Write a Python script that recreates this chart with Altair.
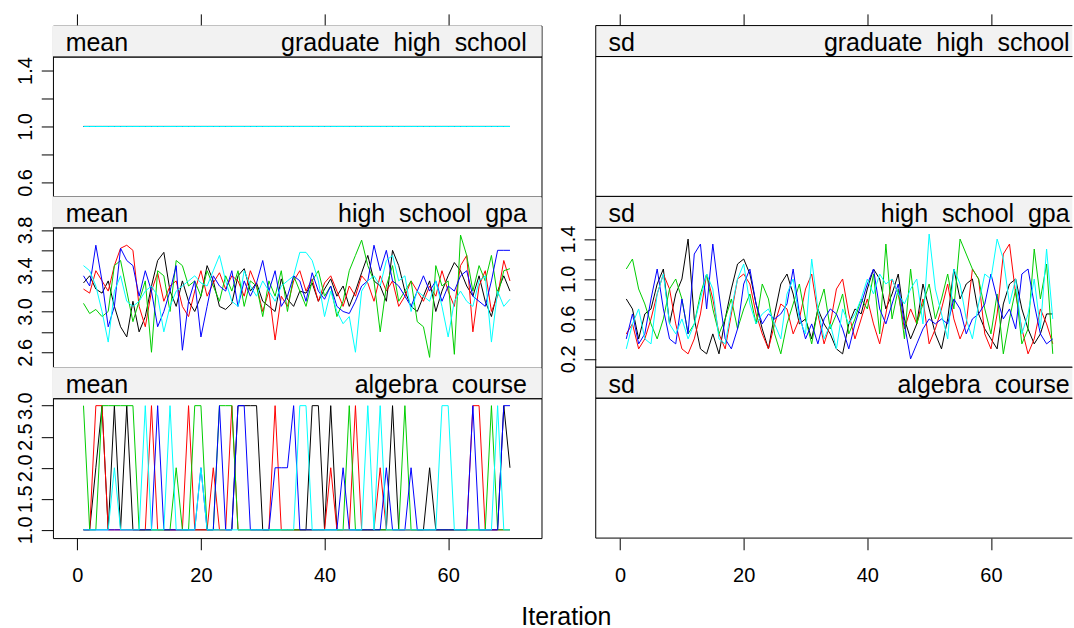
import altair as alt
import pandas as pd

FONT = "Liberation Sans"
ITERATIONS = list(range(1, 71))
CHAINS = [1, 2, 3, 4, 5]
CHAIN_COLORS = ["#000000", "#FF0000", "#00CD00", "#0000FF", "#00FFFF"]

STATS = ["mean", "sd"]
VARIABLES = ["graduate high school", "high school gpa", "algebra course"]
X_TITLE = "Iteration"

# graduate high school: the imputed mean never moves off 1.0 in any chain
GRAD_MEAN_LEVEL = [1.0, 1.0, 1.0, 1.0, 1.0]

# high school gpa, mean of imputed values per chain
GPA_MEAN = [
    [3.28, 3.35, 3.22, 3.18, 3.30, 3.05, 2.85, 2.75, 3.10, 2.80,
     2.95, 3.25, 3.50, 3.58, 3.20, 3.05, 3.30, 3.10, 3.00, 3.15,
     3.45, 3.30, 3.05, 3.02, 3.08, 3.35, 3.42, 3.20, 3.28, 3.10,
     3.05, 3.00, 3.32, 3.12, 3.05, 3.20, 3.18, 3.28, 3.10, 3.22,
     3.32, 3.15, 3.25, 3.05, 3.20, 3.38, 3.55, 3.30, 3.25, 3.10,
     3.60, 3.45, 3.20, 3.05, 3.00, 3.15, 3.30, 3.00, 3.20, 3.35,
     3.48, 3.40, 3.25, 3.15, 3.35, 3.10, 2.95, 3.20, 3.35, 3.20],
    [3.22, 3.18, 3.40, 3.30, 3.20, 3.45, 3.62, 3.65, 3.60, 3.05,
     2.85, 3.20, 3.38, 3.10, 3.25, 3.30, 3.05, 2.95, 3.20, 3.40,
     3.15, 3.28, 3.38, 3.22, 3.35, 3.30, 3.15, 3.40, 3.25, 3.00,
     3.20, 2.72, 3.15, 3.05, 3.30, 3.40, 3.20, 3.32, 3.10, 3.28,
     3.35, 3.20, 3.05, 3.25, 3.15, 3.35, 3.28, 3.10, 3.35, 3.20,
     3.30, 3.05, 3.15, 3.30, 3.20, 3.10, 3.25, 3.15, 3.40, 3.20,
     3.05, 3.45, 3.55, 2.80, 3.25, 3.40, 3.00, 3.15, 3.50, 3.30],
    [3.08, 2.98, 3.02, 2.95, 3.00, 3.45, 3.50, 3.20, 2.90, 3.10,
     3.30, 2.60, 3.40, 3.35, 3.00, 3.50, 3.45, 3.25, 3.30, 3.15,
     3.40, 3.25, 3.10, 3.35, 3.20, 3.40, 3.05, 3.30, 3.25, 2.95,
     3.30, 3.15, 3.40, 3.00, 3.35, 3.20, 3.05, 3.30, 3.40, 3.15,
     3.25, 2.95, 3.10, 3.40, 3.55, 3.70, 3.45, 3.30, 2.80, 3.25,
     3.45, 3.10, 3.20, 3.30, 2.90, 2.85, 2.55, 3.45, 3.25, 3.30,
     2.58, 3.75, 3.55, 3.20, 3.45, 3.30, 3.55, 3.15, 3.40, 3.42],
    [3.35, 3.25, 3.65, 3.30, 2.85, 3.05, 3.62, 3.50, 3.45, 3.15,
     3.40, 3.20, 2.85, 3.00, 3.20, 3.45, 2.62, 3.10, 3.30, 2.75,
     3.05, 3.35, 3.25, 3.20, 3.40, 3.05, 3.30, 3.15, 3.28, 3.50,
     3.20, 3.40, 3.05, 3.15, 3.35, 3.30, 3.10, 3.38, 3.20, 3.12,
     3.25, 3.05, 3.00, 2.98, 3.10, 3.25, 3.30, 3.65, 3.40, 3.60,
     3.30, 3.25, 3.15, 3.05, 3.20, 3.35, 3.20, 3.30, 3.10, 3.25,
     3.20, 3.35, 3.40, 3.15, 3.10, 3.05, 3.30, 3.60, 3.60, 3.60],
    [3.45, 3.40, 3.25, 3.00, 2.70, 3.20, 3.35, 3.10, 3.05, 3.10,
     3.20, 3.25, 3.15, 2.80, 3.05, 3.20, 3.25, 3.30, 3.35, 3.28,
     3.25, 3.40, 3.55, 3.30, 3.10, 3.05, 3.40, 3.25, 3.15, 3.30,
     3.20, 3.10, 3.25, 3.30, 3.35, 3.58, 3.58, 3.50, 3.30, 2.95,
     3.20, 3.00, 2.88, 2.95, 2.60, 3.20, 3.30, 3.35, 3.25, 3.50,
     3.55, 3.30, 3.35, 3.00, 3.20, 3.15, 3.10, 3.30, 3.05, 2.75,
     3.10, 3.20, 3.10, 3.05, 3.30, 3.35, 2.70, 3.20, 3.05, 3.12],
]

# high school gpa, sd of imputed values per chain
GPA_SD = [
    [0.80, 0.70, 0.40, 0.65, 0.70, 0.95, 1.10, 0.55, 0.85, 1.00,
     1.40, 0.60, 0.30, 0.25, 0.45, 0.25, 0.60, 0.90, 1.15, 1.20,
     1.05, 0.75, 0.50, 0.30, 0.65, 0.95, 1.05, 0.85, 0.55, 0.60,
     0.40, 0.70, 0.55, 0.45, 0.30, 0.25, 0.55, 0.70, 0.65, 0.90,
     1.10, 1.00, 0.70, 0.85, 1.05, 0.60, 0.40, 0.55, 0.95, 0.70,
     0.45, 0.30, 0.60, 1.10, 0.80, 0.95, 1.00, 0.65, 0.50, 0.40,
     0.30, 0.75, 0.95, 1.00, 0.70, 0.50, 0.35, 0.45, 0.65, 0.65],
    [0.45, 0.55, 0.30, 0.40, 0.60, 0.85, 1.05, 0.90, 0.55, 0.30,
     0.25, 0.40, 0.65, 1.05, 0.80, 0.45, 0.30, 0.65, 1.00, 1.05,
     0.95, 0.65, 0.45, 0.30, 0.55, 0.75, 0.70, 0.45, 0.60, 0.90,
     1.05, 0.65, 0.35, 0.55, 0.90, 1.00, 0.65, 0.40, 0.60, 0.80,
     0.55, 0.35, 0.65, 1.00, 0.85, 0.50, 0.70, 0.55, 0.80, 0.35,
     0.50, 0.70, 0.95, 0.60, 0.40, 0.55, 1.10, 1.00, 0.45, 0.30,
     0.65, 1.25, 1.35, 0.85, 0.50, 0.25, 0.40, 0.70, 0.55, 0.35],
    [1.10, 1.20, 0.90, 0.75, 0.55, 0.40, 0.60, 0.90, 1.00, 0.80,
     0.45, 0.55, 0.85, 1.05, 0.70, 0.45, 0.60, 0.80, 0.50, 0.70,
     0.85, 0.55, 0.95, 0.80, 0.45, 0.25, 0.55, 0.75, 0.95, 0.60,
     0.35, 0.70, 0.90, 0.50, 0.65, 0.85, 0.45, 0.60, 0.80, 0.70,
     1.05, 0.45, 1.35, 0.60, 0.90, 0.40, 1.10, 0.55, 0.75, 0.95,
     0.60, 0.80, 1.05, 0.70, 1.40, 1.25, 1.10, 1.00, 0.70, 0.45,
     0.85, 0.25, 0.60, 0.90, 0.35, 0.50, 1.30, 0.80, 1.15, 0.25],
    [0.40, 0.65, 0.35, 0.45, 0.80, 1.10, 0.70, 0.40, 0.35, 0.80,
     0.45, 1.25, 1.35, 0.70, 1.35, 0.85, 0.40, 0.30, 0.50, 0.95,
     1.10, 0.75, 0.55, 0.65, 0.60, 0.65, 0.75, 1.10, 0.65, 0.40,
     0.55, 0.35, 0.60, 0.70, 0.65, 0.50, 0.30, 0.55, 0.75, 0.95,
     1.10, 0.70, 0.55, 0.75, 0.95, 0.55, 0.20, 0.35, 0.50, 0.60,
     0.55, 0.60, 0.55, 0.80, 0.70, 0.45, 0.60, 0.65, 0.75, 1.05,
     0.80, 0.60, 0.70, 0.50, 1.05, 1.10, 0.75, 0.45, 0.35, 0.40],
    [0.30, 0.55, 0.70, 0.40, 0.35, 0.85, 1.05, 0.55, 0.45, 0.60,
     0.40, 0.55, 0.80, 1.05, 0.90, 0.40, 0.35, 0.70, 1.00, 1.15,
     0.75, 0.55, 0.65, 0.70, 0.55, 0.40, 0.85, 1.00, 0.60, 0.45,
     1.20, 0.70, 0.40, 0.55, 0.30, 0.70, 0.55, 0.65, 0.80, 1.00,
     0.85, 1.05, 0.95, 1.00, 0.85, 0.75, 0.90, 1.00, 0.55, 1.45,
     0.90, 0.65, 0.40, 1.10, 0.95, 0.60, 0.40, 0.75, 1.05, 1.00,
     1.40, 1.20, 0.75, 1.00, 0.45, 0.65, 1.00, 0.50, 1.30, 0.60],
]

# algebra course, mean of imputed values per chain
ALG_MEAN = [
    [1, 1, 2, 3, 1, 3, 1, 3, 1, 1,
     1, 1, 1, 1, 1, 1, 1, 1, 1, 1,
     1, 1, 1, 1, 1, 3, 3, 3, 3, 1,
     1, 1, 1, 1, 1, 1, 1, 3, 3, 1,
     3, 1, 1, 1, 1, 1, 1, 1, 1, 1,
     3, 1, 1, 1, 1, 1, 2, 1, 1, 1,
     1, 1, 1, 1, 1, 1, 1, 1, 3, 2],
    [1, 1, 3, 3, 1, 1, 1, 1, 1, 1,
     1, 3, 1, 1, 1, 1, 1, 3, 1, 1,
     1, 2, 1, 1, 3, 1, 1, 1, 1, 1,
     1, 3, 1, 1, 1, 1, 1, 1, 1, 1,
     2, 1, 1, 1, 3, 1, 1, 1, 2, 1,
     1, 1, 1, 1, 1, 1, 1, 1, 1, 1,
     1, 1, 1, 3, 3, 1, 1, 1, 1, 1],
    [3, 1, 1, 3, 3, 3, 3, 3, 3, 1,
     1, 1, 1, 1, 1, 2, 1, 1, 3, 3,
     1, 1, 3, 3, 3, 1, 1, 1, 1, 1,
     1, 1, 1, 1, 1, 1, 1, 1, 1, 1,
     1, 1, 1, 3, 1, 1, 1, 1, 1, 1,
     1, 1, 3, 1, 1, 1, 1, 1, 1, 1,
     1, 1, 1, 1, 1, 1, 3, 1, 1, 1],
    [1, 1, 1, 1, 1, 1, 1, 1, 1, 1,
     1, 1, 3, 1, 1, 1, 1, 1, 1, 2,
     1, 1, 3, 1, 1, 3, 3, 1, 1, 1,
     1, 2, 2, 2, 3, 1, 1, 1, 1, 1,
     1, 1, 2, 1, 1, 1, 1, 1, 1, 2,
     1, 1, 1, 2, 1, 1, 1, 1, 1, 1,
     1, 1, 1, 3, 1, 1, 1, 1, 3, 3],
    [1, 1, 1, 1, 1, 2, 1, 1, 1, 1,
     3, 1, 1, 1, 3, 1, 1, 1, 1, 2,
     1, 1, 1, 1, 1, 1, 1, 1, 1, 1,
     1, 1, 1, 1, 1, 3, 3, 1, 1, 1,
     1, 1, 1, 1, 1, 1, 3, 1, 3, 1,
     1, 1, 1, 1, 1, 1, 1, 1, 3, 3,
     1, 1, 1, 1, 1, 1, 1, 3, 1, 1],
]

# axis ticks (every tick) and the subset that carries a label
X_TICKS = [0, 20, 40, 60]
Y_GRAD_TICKS = [0.6, 0.8, 1.0, 1.2, 1.4]
Y_GRAD_LABELED = [0.6, 1.0, 1.4]
Y_GPA_MEAN_TICKS = [2.6, 2.8, 3.0, 3.2, 3.4, 3.6, 3.8]
Y_GPA_MEAN_LABELED = [2.6, 3.0, 3.4, 3.8]
Y_ALG_TICKS = [1.0, 1.5, 2.0, 2.5, 3.0]
Y_ALG_LABELED = [1.0, 1.5, 2.0, 2.5, 3.0]
Y_GPA_SD_TICKS = [0.2, 0.4, 0.6, 0.8, 1.0, 1.2, 1.4]
Y_GPA_SD_LABELED = [0.2, 0.6, 1.0, 1.4]

# ---- geometry -------------------------------------------------------------
PANEL_W = 489          # full panel width
RIGHT_W = 477          # right column is cut at the page edge
COL_GAP = 54.3
PX_PER_ITER = PANEL_W / 79.04
X_DOM_LEFT = [-3.94, 75.1]
X_DOM_RIGHT = [-3.94, -3.94 + RIGHT_W / PX_PER_ITER]
STRIP_H = 31
PANEL_H = 140
TICK = 11.7
STRIP_FILL = "#F2F2F2"
STRIP_FONT = 25
TICK_FONT = 20


def long_frame(series_by_chain):
    rows = []
    for chain, values in zip(CHAINS, series_by_chain):
        for it, v in zip(ITERATIONS, values):
            rows.append({"iteration": it, "chain": chain, "value": v})
    return pd.DataFrame(rows)


def empty_frame():
    return pd.DataFrame({"iteration": ITERATIONS, "chain": 1, "value": [None] * len(ITERATIONS)})


def frame_rules(width, height):
    d = pd.DataFrame({"k": [0]})
    r = alt.Chart(d).mark_rule(color="black", strokeWidth=1)
    return [
        r.encode(x=alt.value(0), y=alt.value(0), y2=alt.value(height)),
        r.encode(x=alt.value(0), x2=alt.value(width), y=alt.value(0)),
        r.encode(x=alt.value(0), x2=alt.value(width), y=alt.value(height)),
    ]


def strip(stat, variable, width, x_dom, top_ticks, open_right):
    d = pd.DataFrame({"stat": [stat], "variable": [variable.replace(" ", "\u00a0 ")]})
    base = alt.Chart(d)
    layers = [
        base.mark_rect(fill=STRIP_FILL).encode(
            x=alt.value(0), x2=alt.value(width), y=alt.value(0), y2=alt.value(STRIP_H)
        ),
        base.mark_text(align="left", baseline="alphabetic", font=FONT,
                       fontSize=STRIP_FONT, color="black").encode(
            x=alt.value(12.7), y=alt.value(25.7), text="stat:N"
        ),
        base.mark_text(align="right", baseline="alphabetic", font=FONT,
                       fontSize=STRIP_FONT, color="black").encode(
            x=alt.value(PANEL_W - 14.7), y=alt.value(25.7), text="variable:N"
        ),
    ]
    if top_ticks:
        layers.append(
            alt.Chart(pd.DataFrame({"iteration": [1]})).mark_point(opacity=0).encode(
                x=alt.X("iteration:Q",
                        scale=alt.Scale(domain=x_dom, nice=False, zero=False),
                        axis=alt.Axis(orient="top", values=X_TICKS, labels=False,
                                      domain=False, grid=False, ticks=True,
                                      tickSize=TICK, tickColor="black", title=None))
            )
        )
    if open_right:
        layers += frame_rules(width, STRIP_H)
    ch = alt.layer(*layers).properties(width=width, height=STRIP_H)
    if open_right:
        ch = ch.properties(view=alt.ViewBackground(stroke="transparent"))
    return ch


def y_axis(ticks, labeled):
    return alt.Axis(
        orient="left", values=ticks, format=".1f",
        labelExpr="indexof(%s, datum.value) >= 0 ? datum.label : ''" % labeled,
        labelAngle=270, labelAlign="center", labelBaseline="alphabetic",
        labelPadding=10, tickSize=TICK, tickColor="black", domain=False,
        grid=False, title=None, labelFont=FONT, labelFontSize=TICK_FONT,
        labelColor="black",
    )


def x_axis(with_title):
    kw = dict(
        orient="bottom", values=X_TICKS, format="d", labelPadding=16,
        tickSize=TICK, tickColor="black", domain=False, grid=False,
        labelFont=FONT, labelFontSize=TICK_FONT, labelColor="black",
    )
    if with_title:
        kw.update(title=X_TITLE, titleFont=FONT, titleFontSize=25,
                  titleFontWeight="normal", titleColor="black",
                  titleAlign="center", titleBaseline="alphabetic",
                  titleX=513.4, titleY=86.5)
    else:
        kw.update(title=None)
    return alt.Axis(**kw)


def panel(df, width, x_dom, y_dom, yax, bottom, open_right, with_title=False):
    base = alt.Chart(df).encode(
        x=alt.X("iteration:Q", scale=alt.Scale(domain=x_dom, nice=False, zero=False),
                axis=x_axis(with_title) if bottom else None),
        y=alt.Y("value:Q", scale=alt.Scale(domain=y_dom, nice=False, zero=False),
                axis=yax),
    )
    layers = [
        base.transform_filter(alt.datum.chain == c).mark_line(color=col, strokeWidth=1)
        for c, col in zip(CHAINS, CHAIN_COLORS)
    ]
    if open_right:
        layers += frame_rules(width, PANEL_H)
    ch = alt.layer(*layers).properties(width=width, height=PANEL_H)
    if open_right:
        ch = ch.properties(view=alt.ViewBackground(stroke="transparent"))
    return ch


grad_df = long_frame([[lvl for _ in ITERATIONS] for lvl in GRAD_MEAN_LEVEL])
gpa_mean_df = long_frame(GPA_MEAN)
gpa_sd_df = long_frame(GPA_SD)
alg_mean_df = long_frame(ALG_MEAN)

cells = [
    # row 1: graduate high school
    strip(STATS[0], VARIABLES[0], PANEL_W, X_DOM_LEFT, True, False),
    strip(STATS[1], VARIABLES[0], RIGHT_W, X_DOM_RIGHT, True, True),
    panel(grad_df, PANEL_W, X_DOM_LEFT, [0.5, 1.5],
          y_axis(Y_GRAD_TICKS, Y_GRAD_LABELED), False, False),
    panel(empty_frame(), RIGHT_W, X_DOM_RIGHT, [0, 1], None, False, True),
    # row 2: high school gpa
    strip(STATS[0], VARIABLES[1], PANEL_W, X_DOM_LEFT, False, False),
    strip(STATS[1], VARIABLES[1], RIGHT_W, X_DOM_RIGHT, False, True),
    panel(gpa_mean_df, PANEL_W, X_DOM_LEFT, [2.453, 3.825],
          y_axis(Y_GPA_MEAN_TICKS, Y_GPA_MEAN_LABELED), False, False),
    panel(gpa_sd_df, RIGHT_W, X_DOM_RIGHT, [0.116, 1.517],
          y_axis(Y_GPA_SD_TICKS, Y_GPA_SD_LABELED), False, True),
    # row 3: algebra course
    strip(STATS[0], VARIABLES[2], PANEL_W, X_DOM_LEFT, False, False),
    strip(STATS[1], VARIABLES[2], RIGHT_W, X_DOM_RIGHT, False, True),
    panel(alg_mean_df, PANEL_W, X_DOM_LEFT, [0.867, 3.12],
          y_axis(Y_ALG_TICKS, Y_ALG_LABELED), True, False, with_title=True),
    panel(empty_frame(), RIGHT_W, X_DOM_RIGHT, [0, 1], None, True, True),
]

chart = alt.concat(
    *cells, columns=2, spacing={"row": 0, "column": COL_GAP}, bounds="flush"
).properties(
    padding={"left": 14, "top": 12.3, "right": 0, "bottom": 0},
    background="white",
).configure_view(
    stroke="black", strokeWidth=1
)

chart.save("out.html", embed_options={"renderer": "svg", "actions": False})
